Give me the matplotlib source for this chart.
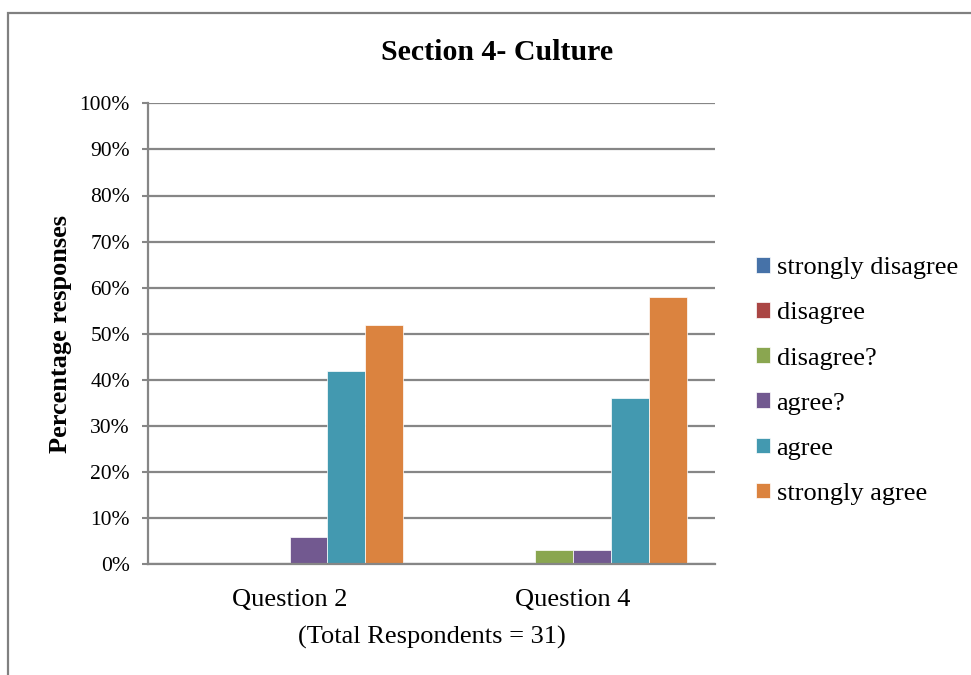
import matplotlib
matplotlib.use("Agg")
import matplotlib.pyplot as plt
import numpy as np
from matplotlib.patches import Rectangle

categories = ["Question 2", "Question 4"]
series = ["strongly disagree", "disagree", "disagree?", "agree?", "agree", "strongly agree"]
strongly_disagree = [0, 0]
disagree = [0, 0]
disagree_q = [0, 3]
agree_q = [6, 3]
agree = [42, 36]
strongly_agree = [52, 58]
values = [strongly_disagree, disagree, disagree_q, agree_q, agree, strongly_agree]
colors = ["#4672A8", "#AA4644", "#8AA650", "#725990", "#4399B0", "#DB833F"]
yticks = [0, 10, 20, 30, 40, 50, 60, 70, 80, 90, 100]

plt.rcParams['font.family'] = ['Liberation Serif', 'DejaVu Serif']
W, H = 971, 675
fig = plt.figure(figsize=(W / 100, H / 100), dpi=100)

# outer chart border (partially cropped in the reference)
fig.patches.append(Rectangle((7.5 / W, -0.1), 1.2, 1 - 12.5 / H + 0.1,
                             transform=fig.transFigure, fill=False,
                             edgecolor="#808080", linewidth=1.6))

ax = fig.add_axes([147.7 / W, 1 - 564.3 / H, (715 - 147.7) / W, (564.3 - 103.3) / H])
n = len(series)
w = 1 / 7.5
x = np.arange(len(categories))
for i, (s, v, c) in enumerate(zip(series, values, colors)):
    ax.bar(x + (i - (n - 1) / 2) * w, [vv / 100 for vv in v], width=w, color=c,
           label=s, edgecolor="white", linewidth=0.5, zorder=2)

ax.set_xlim(-0.5, 1.5)
ax.set_ylim(0, 1)
ax.set_yticks([t / 100 for t in yticks])
ax.set_yticklabels([f"{t}%" for t in yticks], fontsize=15.5)
ax.set_xticks(x)
ax.set_xticklabels(categories, fontsize=19)
ax.tick_params(axis='x', length=0, pad=18)
ax.tick_params(axis='y', length=4.3, width=1.5, color="#868686", pad=8.5, direction='out')
ax.yaxis.grid(True, color="#868686", linewidth=1.6)
ax.set_axisbelow(True)
for sp in ["top", "right"]:
    ax.spines[sp].set_visible(False)
for sp in ["left", "bottom"]:
    ax.spines[sp].set_color("#868686")
    ax.spines[sp].set_linewidth(1.6)

fig.text(497 / W, 1 - 52 / H, "Section 4- Culture", fontsize=21.5, fontweight='bold',
         ha='center', va='center')
fig.text(60 / W, 1 - 334 / H, "Percentage responses", fontsize=19, fontweight='bold',
         rotation=90, ha='center', va='center')
fig.text(431.4 / W, 1 - 637 / H, "(Total Respondents = 31)", fontsize=19,
         ha='center', va='center')

leg = fig.legend(loc='center left', bbox_to_anchor=(756 / W, 1 - 381 / H),
                 frameon=False, fontsize=19, handlelength=0.53, handleheight=0.53,
                 handletextpad=0.25, labelspacing=0.87, borderpad=0, borderaxespad=0)

fig.savefig("out.png", dpi=100)
